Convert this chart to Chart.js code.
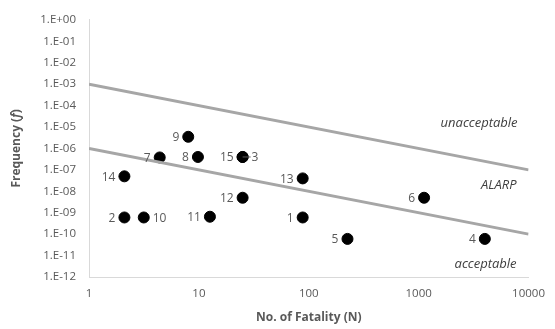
<!DOCTYPE html>
<html>
<head>
<meta charset="utf-8">
<script src="https://cdn.jsdelivr.net/npm/chart.js@4"></script>
<style>
  html, body { margin: 0; padding: 0; background: #fff; }
  #wrap { width: 555px; height: 329px; }
</style>
</head>
<body>
<div id="wrap"><canvas id="fnChart" width="555" height="329"></canvas></div>
<script>
// scenario data
const ids = ["1", "2", "3", "4", "5", "6", "7", "8", "9", "10", "11", "12", "13", "14", "15"];
const fatalities = [88, 2.1, 25, 4000, 225, 1120, 4.4, 9.8, 8, 3.15, 12.6, 25, 88, 2.1, 25];
const frequencies = [6e-10, 6e-10, 4e-7, 6e-11, 6e-11, 5e-9, 3.8e-7, 4e-7, 3.5e-6, 6e-10, 6.5e-10, 5e-9, 4e-8, 5e-8, 4e-7];
// labels that sit to the right of their point
const rightLabels = ["3", "10"];

// criterion lines
const limitN = [1, 10000];
const upperLimit = [1e-3, 1e-7];
const lowerLimit = [1e-6, 1e-10];

const xTicks = [1, 10, 100, 1000, 10000];
const yTicks = [1e0, 1e-1, 1e-2, 1e-3, 1e-4, 1e-5, 1e-6, 1e-7, 1e-8, 1e-9, 1e-10, 1e-11, 1e-12];

const FONT = "'Open Sans', sans-serif";
const textGrey = "#595959";

function expLabel(v) {
    let e = Math.round(Math.log10(v));
    let s = Math.abs(e).toString().padStart(2, "0");
    return "1.E" + (e < 0 ? "-" : "+") + s;
}

// draws point labels, zone captions and y title
const extras = {
    id: "extras",
    afterDatasetsDraw(chart) {
        const ctx = chart.ctx;
        const meta = chart.getDatasetMeta(2);
        ctx.save();
        ctx.fillStyle = textGrey;
        ctx.font = "12px " + FONT;
        ctx.textBaseline = "middle";
        meta.data.forEach((pt, i) => {
            let id = ids[i];
            if (rightLabels.includes(id)) {
                ctx.textAlign = "left";
                ctx.fillText(id, pt.x + 9, pt.y + 1);
            } else {
                ctx.textAlign = "right";
                ctx.fillText(id, pt.x - 9, pt.y + 1);
            }
        });
        // small leader for label 3
        let p3 = meta.data[2];
        ctx.strokeStyle = textGrey;
        ctx.lineWidth = 1;
        ctx.beginPath();
        ctx.moveTo(p3.x, p3.y);
        ctx.lineTo(p3.x + 8, p3.y);
        ctx.stroke();

        // zone captions
        const a = chart.chartArea;
        ctx.font = "italic 13px " + FONT;
        ctx.textAlign = "right";
        ctx.fillStyle = "#404040";
        ctx.fillText("unacceptable", a.right - 11, 123);
        ctx.fillText("ALARP", a.right - 12, 185);
        ctx.fillText("acceptable", a.right - 12, 264);

        // y axis title with italic f
        ctx.translate(17, (a.top + a.bottom) / 2);
        ctx.rotate(-Math.PI / 2);
        ctx.fillStyle = textGrey;
        const parts = [["bold 12px " + FONT, "Frequency ("], ["bold italic 12px " + FONT, "f"], ["bold 12px " + FONT, ")"]];
        let total = 0;
        parts.forEach(p => { ctx.font = p[0]; total += ctx.measureText(p[1]).width; });
        let x = -total / 2;
        ctx.textAlign = "left";
        parts.forEach(p => {
            ctx.font = p[0];
            ctx.fillText(p[1], x, 0);
            x += ctx.measureText(p[1]).width;
        });
        ctx.restore();
    }
};

const lineStyle = {
    type: "line",
    borderColor: "#a6a6a6",
    borderWidth: 3,
    pointRadius: 0,
    fill: false,
    tension: 0
};

new Chart(document.getElementById("fnChart"), {
    type: "scatter",
    data: {
        datasets: [
            Object.assign({ label: "upper", data: limitN.map((n, i) => ({ x: n, y: upperLimit[i] })) }, lineStyle),
            Object.assign({ label: "lower", data: limitN.map((n, i) => ({ x: n, y: lowerLimit[i] })) }, lineStyle),
            {
                label: "scenarios",
                data: fatalities.map((n, i) => ({ x: n, y: frequencies[i] })),
                backgroundColor: "#000",
                borderColor: "#000",
                pointRadius: 5.5,
                pointHoverRadius: 5.5
            }
        ]
    },
    options: {
        responsive: false,
        animation: false,
        layout: { padding: { top: 18, right: 26, left: 0, bottom: 0 } },
        plugins: { legend: { display: false }, tooltip: { enabled: false } },
        scales: {
            x: {
                type: "logarithmic",
                min: 1,
                max: 10000,
                afterBuildTicks: scale => { scale.ticks = xTicks.map(v => ({ value: v })); },
                afterFit: scale => { scale.height = 52; },
                grid: { display: false, drawTicks: false },
                border: { color: "#d9d9d9", width: 1 },
                ticks: {
                    color: textGrey,
                    font: { family: FONT, size: 11.5 },
                    padding: 10,
                    maxRotation: 0,
                    callback: v => v.toString()
                },
                title: {
                    display: true,
                    text: "No. of Fatality (N)",
                    color: textGrey,
                    font: { family: FONT, size: 12, weight: "bold" },
                    padding: { top: 4 }
                }
            },
            y: {
                type: "logarithmic",
                min: 1e-12,
                max: 1,
                afterBuildTicks: scale => { scale.ticks = yTicks.map(v => ({ value: v })); },
                afterFit: scale => { scale.width = 89; },
                grid: { display: false, drawTicks: false },
                border: { color: "#d9d9d9", width: 1 },
                ticks: {
                    color: textGrey,
                    font: { family: FONT, size: 11.5 },
                    padding: 13,
                    callback: v => expLabel(v)
                }
            }
        }
    },
    plugins: [extras]
});
</script>
</body>
</html>
